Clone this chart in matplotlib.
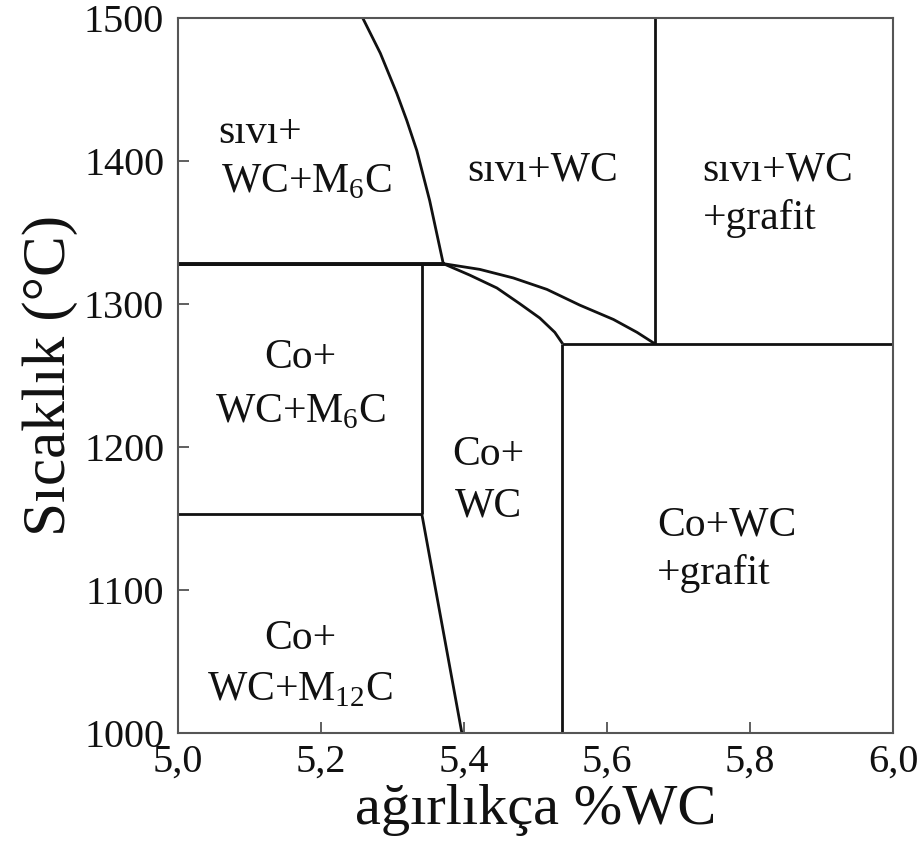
import matplotlib
matplotlib.use("Agg")
import matplotlib.pyplot as plt

plt.rcParams['font.family'] = ['Liberation Serif', 'DejaVu Serif']
plt.rcParams['mathtext.fontset'] = 'custom'
plt.rcParams['mathtext.rm'] = 'Liberation Serif'

# phase boundaries (wt% WC, temperature in C)
liquidus_x = [5.258, 5.283, 5.306, 5.320, 5.334, 5.352, 5.371]
liquidus_y = [1500, 1475, 1447, 1428, 1407, 1372, 1328]

eutectic_x = [5.0, 5.371]
eutectic_y = [1328, 1328]

upper_curve_x = [5.371, 5.422, 5.469, 5.516, 5.562, 5.609, 5.642, 5.667]
upper_curve_y = [1328, 1324, 1318, 1310, 1299, 1289, 1280, 1272]

lower_curve_x = [5.371, 5.408, 5.446, 5.478, 5.506, 5.527, 5.538]
lower_curve_y = [1328, 1320, 1311, 1300, 1290, 1280, 1272]

graphite_x = [5.667, 5.667]
graphite_y = [1500, 1272]

co_graphite_x = [5.537, 6.0]
co_graphite_y = [1272, 1272]

wc_right_x = [5.537, 5.537]
wc_right_y = [1272, 1000]

m6c_x = [5.341, 5.341]
m6c_y = [1328, 1153]

m12c_x = [5.0, 5.341]
m12c_y = [1153, 1153]

m12c_edge_x = [5.341, 5.397]
m12c_edge_y = [1153, 1000]

x_ticks = [5.0, 5.2, 5.4, 5.6, 5.8, 6.0]
y_ticks = [1000, 1100, 1200, 1300, 1400, 1500]

# region labels: (text, x, y, horizontal alignment)
labels = [
    ("sıvı+", 5.056, 1412, 'left'),
    ("WC+M$_\\mathregular{6}$C", 5.060, 1378, 'left'),
    ("sıvı+WC", 5.5105, 1386, 'center'),
    ("sıvı+WC", 5.733, 1386, 'left'),
    ("+grafit", 5.734, 1352, 'left'),
    ("Co+", 5.171, 1255, 'center'),
    ("WC+M$_\\mathregular{6}$C", 5.171, 1217, 'center'),
    ("Co+", 5.434, 1187, 'center'),
    ("WC", 5.434, 1151, 'center'),
    ("Co+WC", 5.670, 1138, 'left'),
    ("+grafit", 5.670, 1104, 'left'),
    ("Co+", 5.171, 1059, 'center'),
    ("WC+M$_\\mathregular{12}$C", 5.171, 1023, 'center'),
]

fig = plt.figure(figsize=(9.22, 8.55), dpi=100)
ax = fig.add_axes([0.1931, 0.1427, 0.7754, 0.8368])

lines = [
    (liquidus_x, liquidus_y), (eutectic_x, eutectic_y),
    (upper_curve_x, upper_curve_y), (lower_curve_x, lower_curve_y),
    (graphite_x, graphite_y), (co_graphite_x, co_graphite_y),
    (wc_right_x, wc_right_y), (m6c_x, m6c_y), (m12c_x, m12c_y),
    (m12c_edge_x, m12c_edge_y),
]
for xs, ys in lines:
    ax.plot(xs, ys, color='#111111', lw=2.0, solid_capstyle='butt',
            solid_joinstyle='round')
# the eutectic line looks heavier in the original
ax.plot(eutectic_x, eutectic_y, color='#111111', lw=2.8)

for txt, x, y, ha in labels:
    ax.text(x, y, txt, fontsize=30, ha=ha, va='baseline', color='#111111')

ax.set_xlim(5.0, 6.0)
ax.set_ylim(1000, 1500)
ax.set_xticks(x_ticks)
ax.set_xticklabels([f"{v:.1f}".replace('.', ',') for v in x_ticks])
ax.set_yticks(y_ticks)
ax.set_yticklabels([str(v) for v in y_ticks])
ax.tick_params(direction='in', length=8, width=1.2, colors='#444444',
               labelcolor='#111111', labelsize=29)
ax.tick_params(axis='y', pad=10)
ax.tick_params(axis='x', pad=8)
for s in ax.spines.values():
    s.set_color('#555555')
    s.set_linewidth(1.5)

ax.set_xlabel("ağırlıkça %WC", fontsize=42, color='#111111', labelpad=2)
ax.set_ylabel("Sıcaklık (°C)", fontsize=44, color='#111111', labelpad=4)

fig.savefig("out.png", dpi=100)
